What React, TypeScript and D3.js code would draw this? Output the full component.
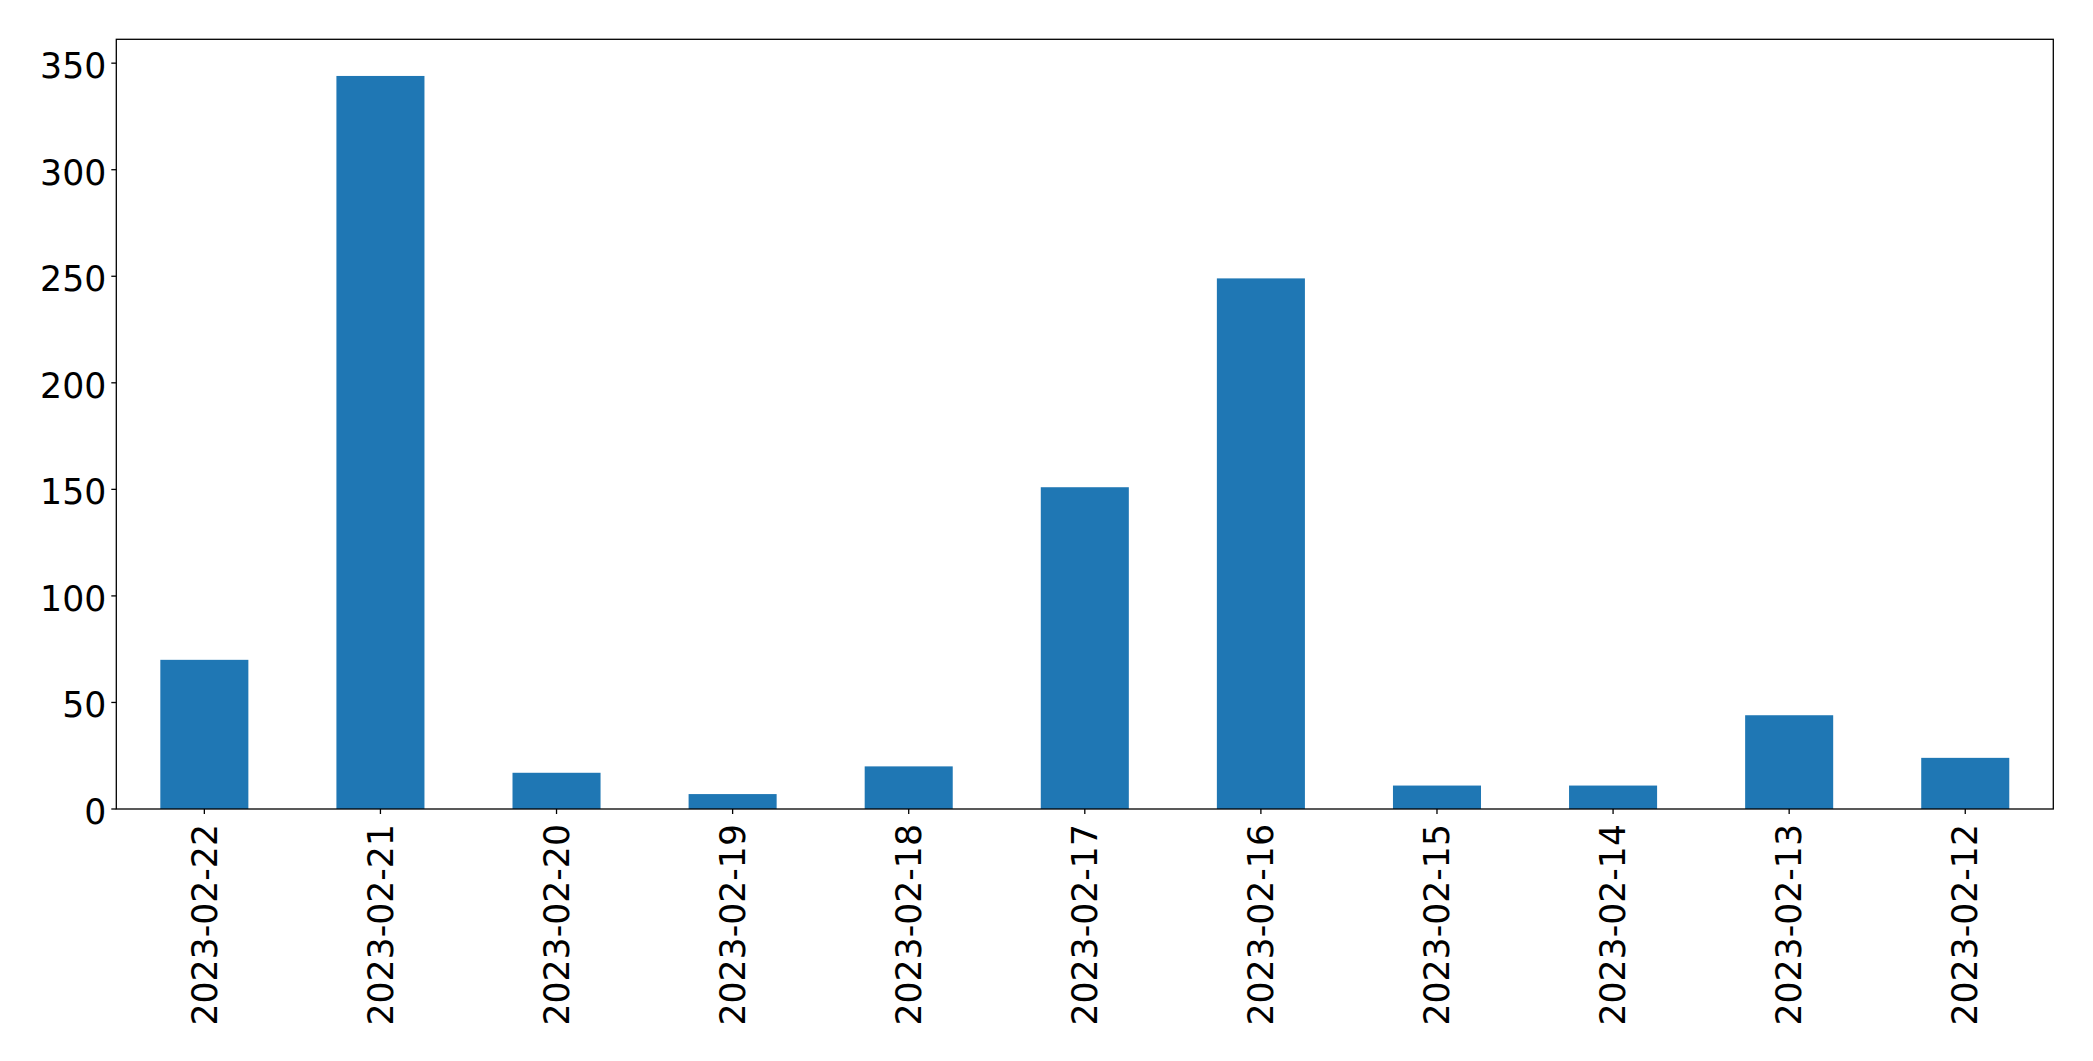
import React from "react";
import * as d3 from "d3";

const categories = [
  "2023-02-22", "2023-02-21", "2023-02-20", "2023-02-19", "2023-02-18", "2023-02-17",
  "2023-02-16", "2023-02-15", "2023-02-14", "2023-02-13", "2023-02-12",
];
const values = [70, 344, 17, 7, 20, 151, 249, 11, 11, 44, 24];
const yTicks = [0, 50, 100, 150, 200, 250, 300, 350];

const W = 2093;
const H = 1061;
const left = 116.3;
const right = 2053.3;
const top = 39.3;
const bottom = 809;
const FONT = "'DejaVu Sans', sans-serif";
const FS = 34.7;

export default function App() {
  const x = d3.scaleBand<string>().domain(categories).range([left, right]).paddingInner(0.5).paddingOuter(0.25);
  const yMax = (d3.max(values) as number) * 1.05;
  const y = d3.scaleLinear().domain([0, yMax]).range([bottom, top]);

  return (
    <svg width={W} height={H} style={{ position: "absolute", left: 0, top: 0, background: "#fff" }}>
      <rect x={0} y={0} width={W} height={H} fill="#fff" />
      {categories.map((c, i) => (
        <rect key={c} x={x(c)} y={y(values[i])} width={x.bandwidth()} height={bottom - y(values[i])} fill="#1f77b4" />
      ))}
      <rect x={left} y={top} width={right - left} height={bottom - top} fill="none" stroke="#000" strokeWidth={1.3} />
      {yTicks.map((t) => (
        <g key={t}>
          <line x1={left - 5} x2={left} y1={y(t)} y2={y(t)} stroke="#000" strokeWidth={1.3} />
          <text x={left - 10} y={y(t) + 15} textAnchor="end" fontFamily={FONT} fontSize={FS} fill="#000">
            {t}
          </text>
        </g>
      ))}
      {categories.map((c) => {
        const cx = (x(c) as number) + x.bandwidth() / 2;
        return (
          <g key={c}>
            <line x1={cx} x2={cx} y1={bottom} y2={bottom + 5} stroke="#000" strokeWidth={1.3} />
            <text
              transform={`translate(${cx},${bottom + 15}) rotate(-90)`}
              textAnchor="end"
              dy="0.35em"
              fontFamily={FONT}
              fontSize={FS}
              fill="#000"
            >
              {c}
            </text>
          </g>
        );
      })}
    </svg>
  );
}
